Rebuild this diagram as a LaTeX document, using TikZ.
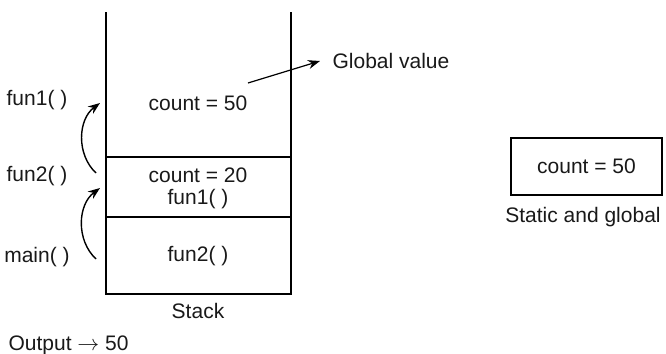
\documentclass[tikz,border=0pt]{standalone}
\usepackage{fontspec}
\setmainfont{Liberation Sans}
\usetikzlibrary{arrows.meta}

\begin{document}
\begin{tikzpicture}[x=0.5pt, y=-0.5pt, line width=0.6pt,
  every node/.style={font=\fontsize{10.5}{12}\selectfont, inner sep=0pt, text=black!90},
  call/.style={-{Stealth[length=6pt,width=4.5pt]}, line width=0.7pt, bend left=50}]
  \useasboundingbox (0,0) rectangle (666,354);
  % The stack (open at the top)
  \coordinate (TL) at (106,12);
  \coordinate (TR) at (291,12);
  \coordinate (BL) at (106,294);
  \coordinate (BR) at (291,294);
  \coordinate (ML) at (106,157);
  \coordinate (MR) at (291,157);
  \coordinate (LL) at (106,217);
  \coordinate (LR) at (291,217);
  \draw (TL) -- (BL) -- (BR) -- (TR);
  \draw (ML) -- (MR);
  \draw (LL) -- (LR);
  % Frames
  \node (cnt50) at (198,103) {count = 50};
  \node[anchor=base] (cnt20) at (198,182) {count = 20};
  \node[anchor=base] (fone) at (198,204) {fun1( )};
  \node (ftwo) at (198,256) {fun2( )};
  \node (stack) at (198,311) {Stack};
  % Calls
  \node (callone) at (37,100) {fun1( )};
  \node (calltwo) at (37,176) {fun2( )};
  \node (callmain) at (37,257) {main( )};
  \coordinate (mainfrom) at (96,259);
  \coordinate (mainto) at (100,188);
  \coordinate (twofrom) at (96,173);
  \coordinate (twoto) at (100,103);
  \draw[call] (mainfrom) to (mainto);
  \draw[call] (twofrom) to (twoto);
  % Global value
  \node[anchor=west] (global) at (332,61) {Global value};
  \coordinate (gfrom) at (248,83);
  \draw[-{Stealth[length=6pt,width=4.5pt]}] (gfrom) -- ([xshift=-6pt]global.west);
  % Static and global
  \node[draw, minimum width=151*0.5pt, minimum height=57*0.5pt] (static) at (586.5,166.5) {count = 50};
  \node (staticlbl) at (583,217) {Static and global};
  % Output
  \node[anchor=west] (output) at (8,345) {Output $\rightarrow$ 50};
\end{tikzpicture}
\end{document}
